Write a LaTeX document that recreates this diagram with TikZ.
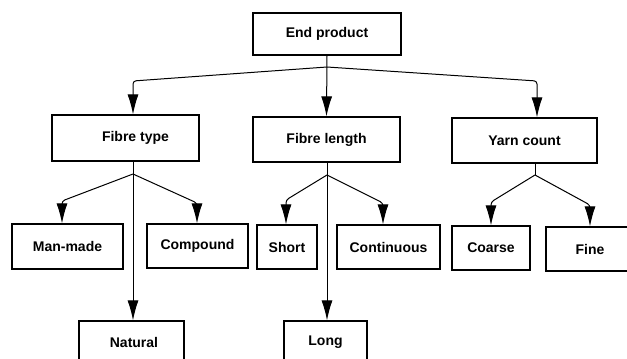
\documentclass[tikz,border=0pt]{standalone}
\usepackage{fontspec}
\setmainfont{Liberation Sans}
\usepackage{tikz}
\usetikzlibrary{arrows.meta,calc}
\tikzset{
  blk/.style={draw,line width=1.3pt,align=center,inner sep=2pt,
              font=\bfseries\fontsize{14}{16}\selectfont},
  sig/.style={-{Latex[length=20pt,width=11pt]},line width=1pt,rounded corners=3pt},
  wire/.style={line width=1pt}
}

\begin{document}
\begin{tikzpicture}[x=1pt,y=-1pt]
  \useasboundingbox (0,0) rectangle (627,359);
  \clip (0,0) rectangle (627,359);
  % ---- top ----
  \node[blk,minimum width=148pt,minimum height=42pt] (endp) at (327,34) {End product};
  % ---- second row ----
  \node[blk,minimum width=147pt,minimum height=46pt] (ftype) at (125.5,138) {\hspace*{20pt}Fibre type};
  \node[blk,minimum width=147pt,minimum height=45pt] (flen) at (326.5,139.5) {Fibre length};
  \node[blk,minimum width=145pt,minimum height=45pt] (ycount) at (524.5,140.5) {Yarn count};
  % ---- third row ----
  \node[blk,minimum width=111pt,minimum height=45pt] (manmade) at (67.5,246.5) {Man-made};
  \node[blk,minimum width=101pt,minimum height=44pt] (compound) at (197.5,246) {Compound};
  \node[blk,minimum width=60pt,minimum height=44pt] (short) at (287,247) {Short};
  \node[blk,minimum width=103pt,minimum height=44pt] (contin) at (388.5,247) {Continuous};
  \node[blk,minimum width=78pt,minimum height=44pt] (coarse) at (491,248) {Coarse};
  \node[blk,minimum width=88pt,minimum height=44pt] (fine) at (590,249) {Fine};
  % ---- bottom row (cut by the page) ----
  \node[blk,minimum width=105pt,minimum height=42pt] (natural) at (131.5,342) {\hspace*{5pt}Natural};
  \node[blk,minimum width=83pt,minimum height=42pt] (long) at (325.5,342) {Long};
  % junctions and bends
  \coordinate (j0) at (327,67);
  \coordinate (b0l) at (133,81);
  \coordinate (b0r) at (537,81);
  \coordinate (j1) at (133,174);
  \coordinate (b1l) at (62,201);
  \coordinate (b1r) at (197,203);
  \coordinate (j2) at (327,175);
  \coordinate (b2l) at (286,200);
  \coordinate (b2r) at (383,203);
  \coordinate (j3) at (535,175);
  \coordinate (b3l) at (491,202);
  \coordinate (b3r) at (590,205);
  % end product fan-out
  \draw[sig] (endp.south) -- (flen.north);
  \draw[sig] (j0) -- (b0l) -- (b0l |- ftype.north);
  \draw[sig] (j0) -- (b0r) -- (b0r |- ycount.north);
  % fibre type
  \draw[wire] (j1 |- ftype.south) -- (j1);
  \draw[sig] (j1) -- (b1l) -- (b1l |- manmade.north);
  \draw[sig] (j1) -- (b1r) -- (b1r |- compound.north);
  \draw[sig] (j1) -- (j1 |- natural.north);
  % fibre length
  \draw[wire] (j2 |- flen.south) -- (j2);
  \draw[sig] (j2) -- (b2l) -- (b2l |- short.north);
  \draw[sig] (j2) -- (b2r) -- (b2r |- contin.north);
  \draw[sig] (j2) -- (j2 |- long.north);
  % yarn count
  \draw[wire] (j3 |- ycount.south) -- (j3);
  \draw[sig] (j3) -- (b3l) -- (b3l |- coarse.north);
  \draw[sig] (j3) -- (b3r) -- (b3r |- fine.north);
\end{tikzpicture}
\end{document}
